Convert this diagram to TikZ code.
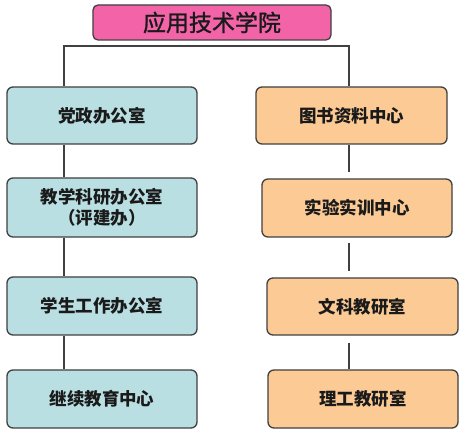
\documentclass[tikz,border=0pt]{standalone}
\usepackage{fontspec}
\newfontfamily\cjk{Noto Sans CJK SC}
\newfontfamily\cjktitle{Noto Sans CJK SC}[FakeBold=1.2]
\definecolor{pinkfill}{HTML}{F263A8}
\definecolor{bluefill}{HTML}{B9DFE2}
\definecolor{orangefill}{HTML}{FCCB95}
\definecolor{edge}{HTML}{404040}
\definecolor{txt}{HTML}{1A1A1A}
\tikzset{
  box/.style={draw=edge, line width=1.3pt, rounded corners=6pt, minimum height=57pt,
    minimum width=190pt, inner sep=0pt, align=center, text=txt,
    font=\cjk\bfseries\fontsize{17.5}{21}\selectfont},
  leftbox/.style={box, fill=bluefill},
  rightbox/.style={box, fill=orangefill},
  titlebox/.style={draw=edge, line width=1.3pt, rounded corners=5pt, fill=pinkfill,
    minimum width=238pt, minimum height=35pt, inner sep=0pt, text=txt,
    font=\cjktitle\fontsize{23}{26}\selectfont},
  conn/.style={draw=edge, line width=1.5pt}
}
\begin{document}
\begin{tikzpicture}[x=1pt,y=-1pt]
\useasboundingbox (0,0) rectangle (464,433);
\fill[white] (0,0) rectangle (464,433);
\node[titlebox] (top) at (212,22.5) {应用技术学院};
\node[leftbox] (dz) at (102,115.5) {党政办公室};
\node[leftbox, minimum height=59pt] (jx) at (102,207.5) {教学科研办公室\\（评建办）};
\node[leftbox, minimum height=58pt] (xs) at (102,306) {学生工作办公室};
\node[leftbox, minimum height=58pt] (jj) at (102,399) {继续教育中心};
\node[rightbox, minimum width=191pt] (ts) at (351.5,115.5) {图书资料中心};
\node[rightbox, minimum height=58pt] (sy) at (357,208) {实验实训中心};
\node[rightbox, minimum width=191pt] (wk) at (362.5,306.5) {文科教研室};
\node[rightbox, minimum height=58pt] (lg) at (363,399) {理工教研室};
\coordinate (bl) at (64,46);
\coordinate (br) at (349,46);
\draw[conn] (bl |- dz.north) -- (bl) -- (br) -- (br |- ts.north);
\draw[conn] (bl |- dz.south) -- (bl |- jx.north);
\draw[conn] (bl |- jx.south) -- (bl |- xs.north);
\draw[conn] (bl |- xs.south) -- (bl |- jj.north);
\draw[conn, shorten >=6pt] (br |- ts.south) -- (br |- sy.north);
\draw[conn, shorten <=5pt, shorten >=6pt] (br |- sy.south) -- (br |- wk.north);
\draw[conn, shorten <=7pt] (br |- wk.south) -- (br |- lg.north);
\end{tikzpicture}
\end{document}
